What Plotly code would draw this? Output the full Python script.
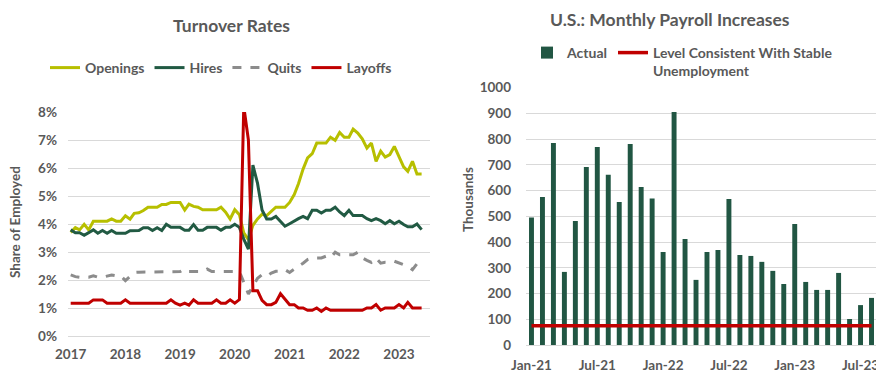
import plotly.graph_objects as go
import pandas as pd

# ---------------- Left chart data (JOLTS rates, % of employment) ----------------
months = pd.date_range("2017-01-01", periods=78, freq="MS")
year_ticks = ["2017-01-01", "2018-01-01", "2019-01-01", "2020-01-01",
              "2021-01-01", "2022-01-01", "2023-01-01"]
year_labels = ["2017", "2018", "2019", "2020", "2021", "2022", "2023"]

openings = [3.70, 3.87, 3.79, 3.99, 3.79, 4.10, 4.10, 4.10, 4.10, 4.18, 4.10, 4.10,
            4.29, 4.17, 4.38, 4.40, 4.48, 4.60, 4.60, 4.60, 4.70, 4.70, 4.77, 4.78,
            4.77, 4.50, 4.71, 4.63, 4.60, 4.51, 4.51, 4.51, 4.51, 4.60, 4.42, 4.18,
            4.51, 4.33, 3.68, 3.44, 3.95, 4.18, 4.35, 4.30, 4.45, 4.60, 4.60, 4.60,
            4.77, 5.05, 5.44, 5.96, 6.36, 6.51, 6.89, 6.89, 6.89, 7.10, 6.99, 7.27,
            7.10, 7.10, 7.39, 7.25, 7.04, 6.71, 6.89, 6.24, 6.60, 6.39, 6.48, 6.77,
            6.42, 6.04, 5.88, 6.24, 5.79, 5.79]
hires = [3.79, 3.69, 3.69, 3.60, 3.69, 3.79, 3.67, 3.77, 3.67, 3.77, 3.67, 3.67,
         3.67, 3.76, 3.77, 3.77, 3.87, 3.87, 3.77, 3.87, 3.77, 3.99, 3.88, 3.88,
         3.88, 3.78, 3.78, 3.98, 3.78, 3.78, 3.88, 3.88, 3.88, 3.78, 3.88, 3.88,
         3.99, 3.88, 3.46, 3.10, 6.10, 5.45, 4.50, 4.18, 4.18, 4.27, 4.10, 3.92,
         4.01, 4.12, 4.19, 4.27, 4.19, 4.49, 4.49, 4.39, 4.49, 4.49, 4.60, 4.43,
         4.30, 4.49, 4.30, 4.30, 4.30, 4.19, 4.12, 4.19, 4.12, 4.01, 4.12, 4.01,
         4.10, 3.98, 3.90, 3.90, 4.00, 3.80]
quits = [2.18, 2.12, 2.10, 2.10, 2.10, 2.15, 2.10, 2.10, 2.15, 2.18, 2.15, 2.15,
         1.98, 2.15, 2.27, 2.28, 2.28, 2.28, 2.28, 2.28, 2.28, 2.28, 2.30, 2.30,
         2.30, 2.39, 2.30, 2.30, 2.30, 2.30, 2.39, 2.30, 2.30, 2.30, 2.30, 2.30,
         2.30, 2.30, 1.92, 1.50, 1.78, 2.06, 2.19, 2.13, 2.25, 2.31, 2.31, 2.37,
         2.27, 2.37, 2.49, 2.60, 2.73, 2.79, 2.79, 2.79, 2.85, 2.79, 2.99, 2.90,
         2.90, 2.90, 2.90, 2.99, 2.79, 2.70, 2.63, 2.79, 2.60, 2.63, 2.63, 2.67,
         2.60, 2.55, 2.49, 2.37, 2.58, 2.39]
layoffs = [1.17, 1.17, 1.17, 1.17, 1.17, 1.29, 1.29, 1.29, 1.17, 1.17, 1.17, 1.17,
           1.29, 1.17, 1.17, 1.17, 1.17, 1.17, 1.17, 1.17, 1.17, 1.17, 1.29, 1.17,
           1.10, 1.17, 1.10, 1.29, 1.17, 1.17, 1.17, 1.17, 1.29, 1.17, 1.17, 1.29,
           1.17, 1.30, 8.20, 7.00, 1.62, 1.62, 1.27, 1.12, 1.12, 1.20, 1.51, 1.30,
           1.12, 1.12, 1.00, 1.00, 0.92, 0.92, 1.00, 0.88, 1.00, 0.92, 0.92, 0.92,
           0.92, 0.92, 0.92, 0.92, 0.92, 1.00, 1.00, 1.12, 0.92, 1.00, 1.00, 1.00,
           1.12, 1.00, 1.20, 1.00, 1.00, 1.00]

# ---------------- Right chart data (payrolls, thousands) ----------------
pay_months = ["Jan-21", "Feb-21", "Mar-21", "Apr-21", "May-21", "Jun-21", "Jul-21", "Aug-21",
              "Sep-21", "Oct-21", "Nov-21", "Dec-21", "Jan-22", "Feb-22", "Mar-22", "Apr-22",
              "May-22", "Jun-22", "Jul-22", "Aug-22", "Sep-22", "Oct-22", "Nov-22", "Dec-22",
              "Jan-23", "Feb-23", "Mar-23", "Apr-23", "May-23", "Jun-23", "Jul-23", "Aug-23"]
payroll = [495, 575, 785, 284, 482, 692, 769, 661, 556, 781, 614, 569,
           361, 905, 412, 253, 361, 369, 567, 350, 346, 323, 288, 237,
           470, 245, 214, 214, 280, 101, 155, 183]
stable_level = [75] * len(pay_months)
pay_tick_labels = ["Jan-21", "Jul-21", "Jan-22", "Jul-22", "Jan-23", "Jul-23"]

GREY = "#595959"
GRID = "#D9D9D9"
FONT = "Lato"

# page body has an 8px margin, so the figure is laid out 8px in from the top-left
W, H = 876, 383

fig = go.Figure()
fig.add_trace(go.Scatter(x=months, y=openings, name="Openings", mode="lines",
                         line=dict(color="#B7BF00", width=3), xaxis="x", yaxis="y", legend="legend"))
fig.add_trace(go.Scatter(x=months, y=hires, name="Hires", mode="lines",
                         line=dict(color="#215A43", width=3), xaxis="x", yaxis="y", legend="legend"))
fig.add_trace(go.Scatter(x=months, y=quits, name="Quits", mode="lines",
                         line=dict(color="#8C8C8C", width=3, dash="dash"), xaxis="x", yaxis="y", legend="legend"))
fig.add_trace(go.Scatter(x=months, y=layoffs, name="Layoffs", mode="lines",
                         line=dict(color="#C00000", width=3), xaxis="x", yaxis="y", legend="legend"))

fig.add_trace(go.Bar(x=pay_months, y=payroll, name="Actual", marker=dict(color="#215643", line=dict(width=0)),
                     xaxis="x2", yaxis="y2", legend="legend2"))
fig.add_trace(go.Scatter(x=pay_months, y=stable_level, name="Level Consistent With Stable<br>Unemployment",
                         mode="lines", line=dict(color="#C00000", width=3.5),
                         xaxis="x2", yaxis="y2", legend="legend2"))

tickfont = dict(family=FONT, size=13.5, color=GREY, weight="bold")
legfont = dict(family=FONT, size=14, color=GREY, weight="bold")

fig.update_layout(
    width=W, height=H,
    margin=dict(l=0, r=0, t=0, b=0),
    paper_bgcolor="white", plot_bgcolor="white",
    font=dict(family=FONT, color=GREY),
    bargap=0.55,
    showlegend=True,
    xaxis=dict(domain=[60 / W, 422 / W], anchor="y", type="date",
               range=["2016-12-14", "2023-07-27"],
               tickvals=year_ticks, ticktext=year_labels,
               showgrid=False, showline=False, zeroline=False, ticks="",
               tickfont=tickfont, ticklabelstandoff=8, automargin=False),
    yaxis=dict(domain=[1 - 328 / H, 1 - 104 / H], anchor="x", range=[0, 8], dtick=1,
               ticksuffix="%", showgrid=True, gridcolor=GRID, gridwidth=1,
               zeroline=True, zerolinecolor=GRID, zerolinewidth=1,
               showline=False, ticks="", tickfont=tickfont, ticklabelstandoff=10,
               automargin=False),
    xaxis2=dict(domain=[518 / W, 869 / W], anchor="y2", type="category",
                range=[-0.5, 31.5], tickvals=pay_tick_labels, ticktext=pay_tick_labels,
                showgrid=False, showline=False, zeroline=False, ticks="",
                tickfont=tickfont, ticklabelstandoff=10, automargin=False),
    yaxis2=dict(domain=[1 - 337 / H, 1 - 79.6 / H], anchor="x2", range=[0, 1000], dtick=100,
                showgrid=True, gridcolor=GRID, gridwidth=1,
                zeroline=True, zerolinecolor=GRID, zerolinewidth=1,
                showline=False, ticks="", tickfont=tickfont, ticklabelstandoff=14,
                automargin=False),
    legend=dict(orientation="h", x=213 / W, xanchor="center", y=1 - 60 / H, yanchor="middle",
                font=legfont, bgcolor="rgba(0,0,0,0)", itemwidth=30),
    legend2=dict(orientation="h", x=519 / W, xanchor="left", y=1 - 29 / H, yanchor="top",
                 valign="top", font=legfont, bgcolor="rgba(0,0,0,0)", itemwidth=30),
    shapes=[
        # the legend box hides most of the top gridline in the original
        dict(type="line", xref="paper", yref="y2", x0=516 / W, x1=842 / W, y0=1000, y1=1000,
             line=dict(color="white", width=3), layer="above"),
    ],
    annotations=[
        dict(text="Turnover Rates", x=223 / W, y=1 - 17 / H, xref="paper", yref="paper",
             showarrow=False, xanchor="center", yanchor="middle",
             font=dict(family=FONT, size=17.5, color=GREY, weight="bold")),
        dict(text="U.S.: Monthly Payroll Increases", x=662 / W, y=1 - 11 / H, xref="paper", yref="paper",
             showarrow=False, xanchor="center", yanchor="middle",
             font=dict(family=FONT, size=17.5, color=GREY, weight="bold")),
        dict(text="Share of Employed", x=7 / W, y=1 - 214 / H, xref="paper", yref="paper",
             showarrow=False, xanchor="center", yanchor="middle", textangle=-90,
             font=dict(family=FONT, size=13.5, color=GREY, weight="bold")),
        dict(text="Thousands", x=460 / W, y=1 - 192 / H, xref="paper", yref="paper",
             showarrow=False, xanchor="center", yanchor="middle", textangle=-90,
             font=dict(family=FONT, size=13.5, color=GREY, weight="bold")),
    ],
)

fig.write_html("out.html")
